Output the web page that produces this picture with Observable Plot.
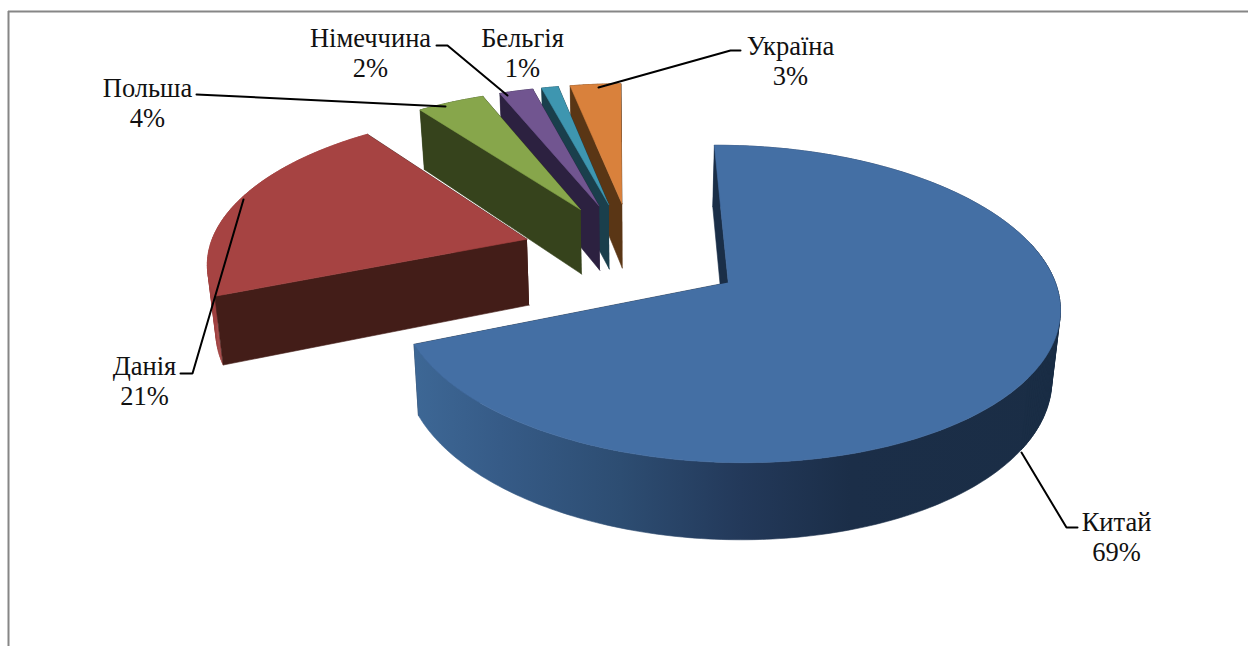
<!DOCTYPE html>
<html lang="uk">
<head>
<meta charset="utf-8">
<script src="https://cdn.jsdelivr.net/npm/d3@7"></script>
<script src="https://cdn.jsdelivr.net/npm/@observablehq/plot@0.6"></script>
<style>
  html, body { margin: 0; padding: 0; background: #fff; }
  svg { display: block; }
</style>
</head>
<body>
<div id="chart"></div>
<script>
// Shares of trade by country, in percent
const countries = ["Китай", "Данія", "Польша", "Німеччина", "Бельгія", "Україна"];
const shares = [69, 21, 4, 2, 1, 3];

const topColors = ["#446fa4", "#a64342", "#87a64b", "#715590", "#3e96b0", "#d9813c"];
const wallColors = ["#1a2e47", "#431d18", "#36431c", "#2c2140", "#1a3f4c", "#5a3615"];
const rimColors = ["#1a2d45", "#a04140", "#36431c", "#2c2140", "#1a3f4c", "#5a3615"];

// Label placement and leader-line routes, in page pixels
const labelCenters = [[1116, 536], [144, 380], [147, 102], [370, 52], [522, 52], [790, 60]];
const leaderRoutes = [
  [[1021, 452], [1066, 527], [1077, 527]],
  [[243, 199], [192, 373], [180, 373]],
  [[196, 94], [445, 106]],
  [[436, 45], [447, 45], [507, 95]],
  [],
  [[598, 87], [730, 50], [740, 50]]
];

// Shading stops of the big wedge's rim, left to right
const rimStops = [
  [415, "#3d6795"], [500, "#365b87"], [620, "#2d4d72"],
  [740, "#23395a"], [850, "#1b2e48"], [1060, "#1a2d45"]
];

// Perspective view of the tilted disc; rotation is the first wedge's start, in degrees
const view = {cx: 632.5, cy: 252.5, A: 318.7, B: 147.9, k: 0.132, explode: 0.35, rotation: -0.5};
const floorScale = 0.98, floorStretch = 1.05, floorDrop = 54;

function project(u, v, lower) {
  const d = 1 - view.k * v;
  const x = view.cx + view.A * u / d;
  const y = view.cy + view.B * v / d;
  return lower
    ? [view.cx + (x - view.cx) * floorScale, y * floorStretch + floorDrop]
    : [x, y];
}

const total = d3.sum(shares);
const rows = [];
let nextId = 0;
function addPolygon(points, color) {
  const id = nextId++;
  for (const [x, y] of points) rows.push({id, x, y, color});
}

const startAngle = view.rotation * Math.PI / 180;
let running = 0;
const slices = shares.map((value, i) => {
  const a0 = startAngle + running / total * 2 * Math.PI;
  running += value;
  const a1 = startAngle + running / total * 2 * Math.PI;
  return {i, a0, a1};
});

// Painted back to front: the small wedges first, the big one last
for (const {i, a0, a1} of [...slices].reverse()) {
  const mid = (a0 + a1) / 2;
  const ou = view.explode * Math.sin(mid);
  const ov = -view.explode * Math.cos(mid);
  const rim = (a) => [ou + Math.sin(a), ov - Math.cos(a)];
  const steps = Math.max(4, Math.ceil((a1 - a0) / (Math.PI / 180)));
  const angles = d3.range(steps + 1).map((s) => a0 + (a1 - a0) * s / steps);
  const wall = (a) => [
    project(ou, ov, false), project(...rim(a), false),
    project(...rim(a), true), project(ou, ov, true)
  ];

  addPolygon(wall(a1), wallColors[i]);
  // the big wedge's rim is one shaded outline; its dark right end and the other rims are quads
  if (i === 0) {
    addPolygon([
      ...angles.map((a) => project(...rim(a), false)),
      ...[...angles].reverse().map((a) => project(...rim(a), true))
    ], "url(#china-rim)");
  }
  for (let s = 0; s < steps; s++) {
    const p0 = rim(angles[s]), p1 = rim(angles[s + 1]);
    const quad = [project(...p0, false), project(...p1, false), project(...p1, true), project(...p0, true)];
    if (i !== 0 || quad[0][0] > 1030) addPolygon(quad, rimColors[i]);
  }
  addPolygon(wall(a0), wallColors[i]);
  addPolygon([project(ou, ov, false), ...angles.map((a) => project(...rim(a), false))], topColors[i]);
}

const leaders = leaderRoutes.flatMap((route, i) => route.map(([x, y]) => ({i, x, y})));
const labels = countries.map((name, i) => ({
  text: `${name}\n${shares[i]}%`,
  x: labelCenters[i][0],
  y: labelCenters[i][1]
}));

// Gradient definition for the shaded rim, placed in page coordinates
function rimGradient() {
  const defs = d3.create("svg:defs");
  const gradient = defs.append("linearGradient")
    .attr("id", "china-rim")
    .attr("gradientUnits", "userSpaceOnUse")
    .attr("x1", rimStops[0][0]).attr("x2", rimStops[rimStops.length - 1][0])
    .attr("y1", 0).attr("y2", 0);
  const span = rimStops[rimStops.length - 1][0] - rimStops[0][0];
  for (const [x, color] of rimStops) {
    gradient.append("stop")
      .attr("offset", (x - rimStops[0][0]) / span)
      .attr("stop-color", color);
  }
  return defs.node();
}

const chart = Plot.plot({
  width: 1248,
  height: 646,
  margin: 0,
  style: {background: "#fff"},
  x: {domain: [0, 1248], range: [0, 1248], axis: null},
  y: {domain: [0, 646], range: [0, 646], axis: null},
  color: {type: "identity"},
  marks: [
    rimGradient,
    Plot.ruleY([11], {x1: 8, x2: 1248, stroke: "#868686", strokeWidth: 2}),
    Plot.ruleX([8], {y1: 11, y2: 646, stroke: "#868686", strokeWidth: 2}),
    Plot.line(rows, {x: "x", y: "y", z: "id", fill: "color", stroke: "color", strokeWidth: 0.6}),
    Plot.line(leaders, {x: "x", y: "y", z: "i", stroke: "#000", strokeWidth: 2, strokeLinejoin: "miter"}),
    Plot.text(labels, {
      x: "x", y: "y", text: "text", fill: "#111",
      fontFamily: "Liberation Serif", fontSize: 26.5, lineHeight: 1.13,
      lineAnchor: "middle", textAnchor: "middle"
    })
  ]
});
document.getElementById("chart").append(chart);
</script>
</body>
</html>
